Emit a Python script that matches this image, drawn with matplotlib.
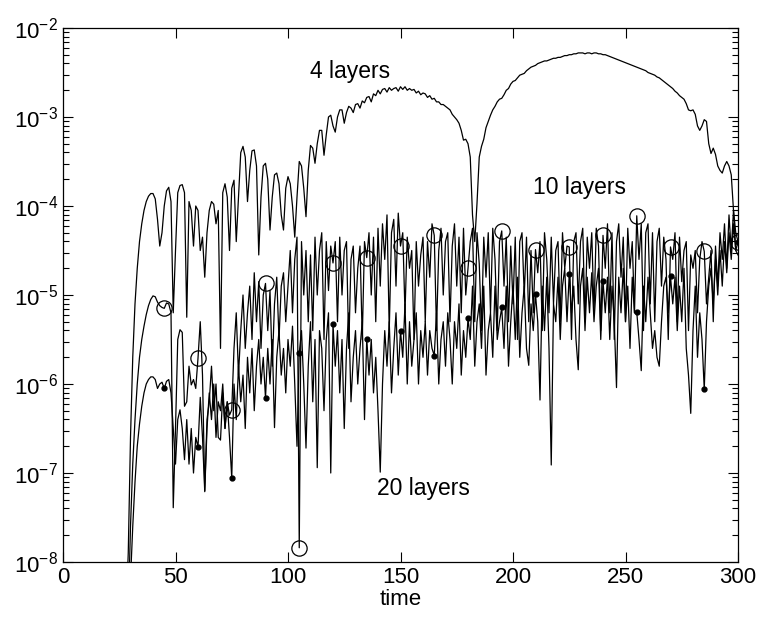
import numpy as np
import matplotlib
matplotlib.use("Agg")
import matplotlib.pyplot as plt
from matplotlib.ticker import LogLocator, MultipleLocator, NullFormatter

plt.rcParams['font.family'] = ['Liberation Sans', 'DejaVu Sans']
plt.rcParams['mathtext.fontset'] = 'custom'
plt.rcParams['mathtext.rm'] = 'Liberation Sans'
plt.rcParams['mathtext.it'] = 'Liberation Sans:italic'

# time grid (one sample per time unit, starting at t = 28)
t_start = 28

# log10 of the error
log_4layers = [
    -8.6, -7.9,
    -6.6, -5.7, -5.1, -4.7, -4.4, -4.2, -4.05, -3.95, -3.89, -3.86,
    -3.86, -3.92, -4.15, -4.45, -4.3, -4.0, -3.83, -3.79, -3.95, -5.2,
    -4.5, -3.85, -3.77, -3.76, -3.85, -5.25, -3.95, -4.05, -4.45, -4.0,
    -4.05, -4.5, -4.35, -4.8, -4.3, -4.05, -3.95, -3.98, -4.2, -4.05,
    -5.6, -3.85, -3.75, -3.9, -4.5, -3.8, -3.71, -4.4, -3.9, -3.4,
    -3.33, -3.45, -3.95, -3.6, -3.38, -3.37, -3.55, -4.55, -3.9, -3.55,
    -3.52, -3.7, -4.27, -3.9, -3.65, -3.63, -3.75, -4.1, -4.27, -3.8,
    -3.67, -3.75, -4.0, -4.35, -3.9, -3.5, -3.55, -3.8, -4.12, -3.6,
    -3.32, -3.35, -3.52, -3.3, -3.15, -3.15, -3.43, -3.2, -3.0, -2.98,
    -3.1, -3.17, -3.0, -2.92, -2.92, -3.07, -2.95, -2.88, -2.9, -2.95,
    -2.86, -2.85, -2.9, -2.82, -2.84, -2.78, -2.77, -2.83, -2.74, -2.76,
    -2.7, -2.74, -2.69, -2.68, -2.72, -2.67, -2.7, -2.68, -2.67, -2.71,
    -2.66, -2.69, -2.66, -2.7, -2.68, -2.7, -2.69, -2.73, -2.71, -2.75,
    -2.73, -2.74, -2.78, -2.76, -2.8, -2.79, -2.83, -2.83, -2.86, -2.86,
    -2.88, -2.9, -2.92, -2.97, -3.0, -3.03, -3.07, -3.15, -3.26, -3.25,
    -3.3, -3.45, -4.1, -4.4, -3.97, -3.45, -3.33, -3.25, -3.12, -3.05,
    -2.98, -2.92, -2.88, -2.83, -2.8, -2.79, -2.75, -2.7, -2.68, -2.63,
    -2.6, -2.59, -2.56, -2.53, -2.52, -2.51, -2.48, -2.46, -2.44, -2.43,
    -2.42, -2.4, -2.39, -2.38, -2.37, -2.37, -2.36, -2.35, -2.34, -2.34,
    -2.33, -2.33, -2.32, -2.31, -2.31, -2.3, -2.3, -2.29, -2.29, -2.28,
    -2.28, -2.28, -2.29, -2.28, -2.28, -2.29, -2.28, -2.28, -2.29, -2.29,
    -2.3, -2.3, -2.31, -2.32, -2.33, -2.34, -2.35, -2.36, -2.37, -2.38,
    -2.39, -2.4, -2.41, -2.42, -2.43, -2.44, -2.45, -2.46, -2.47, -2.48,
    -2.5, -2.51, -2.52, -2.53, -2.55, -2.56, -2.58, -2.6, -2.62, -2.64,
    -2.66, -2.68, -2.71, -2.73, -2.76, -2.78, -2.8, -2.85, -2.92, -2.93,
    -2.92, -2.97, -3.1, -3.15, -3.1, -3.03, -3.05, -3.3, -3.41, -3.35,
    -3.42, -3.55, -3.6, -3.63, -3.55, -3.5, -3.55, -3.65, -4.05, -4.5,
    -4.55,
]

log_10layers = [
    -9.0, -8.6,
    -7.6, -6.9, -6.4, -6.0, -5.7, -5.5, -5.35, -5.22, -5.12, -5.05,
    -5.01, -5.02, -5.08, -5.12, -5.14, -5.15, -5.09, -5.1, -5.2, -7.39,
    -6.5, -5.5, -5.39, -5.42, -6.25, -6.2, -5.8, -6.01, -5.95, -6.05,
    -5.71, -5.3, -5.9, -7.2, -6.4, -6.2, -5.8, -6.3, -6.0, -6.6,
    -6.63, -6.1, -6.5, -6.2, -6.35, -6.29, -5.6, -5.2, -5.9, -5.4,
    -5.0, -5.6, -5.2, -4.9, -5.5, -4.75, -5.3, -4.85, -5.6, -5.0,
    -4.87, -5.4, -4.95, -5.8, -5.1, -4.8, -5.5, -4.9, -4.75, -5.3,
    -4.9, -4.5, -5.2, -4.6, -4.35, -7.84, -4.4, -5.0, -4.5, -5.3,
    -4.55, -5.4, -4.35, -5.0, -4.5, -4.3, -5.5, -4.4, -4.95, -4.45,
    -4.64, -4.4, -5.3, -4.35, -5.0, -4.5, -4.4, -5.6, -4.6, -4.45,
    -5.2, -4.7, -4.45, -5.5, -4.4, -4.58, -4.3, -5.0, -4.35, -5.3,
    -4.25, -4.9, -4.2, -4.6, -4.1, -5.4, -4.3, -4.15, -4.9, -4.08,
    -4.45, -4.3, -5.2, -4.35, -4.7, -4.5, -5.5, -4.4, -4.9, -4.55,
    -4.35, -5.3, -4.4, -4.8, -4.2, -4.33, -5.4, -4.5, -4.25, -5.0,
    -4.4, -4.3, -5.3, -4.45, -4.2, -4.9, -4.35, -5.2, -4.25, -5.0,
    -4.7, -4.4, -4.25, -5.3, -4.3, -4.65, -5.4, -4.35, -4.8, -4.3,
    -5.2, -4.25, -4.6, -5.4, -4.4, -4.28, -4.9, -4.35, -5.3, -4.45,
    -5.1, -4.35, -5.5, -4.4, -4.3, -5.0, -4.35, -5.3, -4.5, -5.2,
    -4.49, -4.75, -4.4, -5.4, -4.3, -4.6, -5.2, -4.35, -5.1, -4.5,
    -4.4, -5.3, -4.3, -4.7, -4.45, -4.46, -5.5, -4.4, -4.3, -5.1,
    -4.4, -4.25, -5.3, -4.35, -4.7, -4.3, -5.2, -4.25, -4.45, -5.4,
    -4.33, -4.7, -4.2, -5.2, -4.3, -5.5, -4.4, -4.2, -4.8, -4.35,
    -5.3, -4.25, -4.7, -4.4, -5.2, -4.11, -4.6, -4.2, -5.4, -4.3,
    -4.2, -5.1, -4.3, -5.3, -4.4, -4.25, -4.9, -4.35, -4.6, -5.5,
    -4.46, -4.6, -4.3, -5.3, -4.35, -4.85, -4.5, -4.4, -5.4, -4.55,
    -4.7, -4.5, -5.2, -4.6, -4.4, -4.51, -5.1, -4.8, -4.5, -5.3,
    -4.45, -4.9, -4.3, -4.6, -4.2, -4.7, -4.1, -4.5, -4.05, -4.3,
    -4.4,
]

log_20layers = [
    -9.5, -9.0,
    -8.2, -7.6, -7.1, -6.7, -6.45, -6.25, -6.1, -6.0, -5.95, -5.92,
    -5.92, -5.95, -6.05, -6.0, -5.98, -6.05, -5.97, -5.95, -6.1, -6.5,
    -6.9, -6.4, -6.29, -6.5, -6.85, -6.4, -6.9, -6.5, -7.0, -6.6,
    -6.71, -6.15, -6.6, -7.21, -6.5, -6.1, -6.4, -6.0, -6.6, -6.2,
    -6.3, -6.0, -6.5, -6.2, -6.6, -7.06, -6.0, -6.4, -5.8, -6.2,
    -5.9, -6.5, -5.7, -6.1, -5.6, -6.3, -5.8, -5.5, -6.0, -5.7,
    -6.16, -5.6, -6.0, -5.5, -6.49, -5.7, -5.4, -5.9, -5.6, -6.1,
    -5.5, -5.8, -5.35, -6.0, -6.7, -5.65, -5.4, -6.0, -6.72, -5.8,
    -5.3, -6.2, -5.5, -6.94, -5.4, -5.6, -6.3, -5.5, -5.2, -7.0,
    -5.33, -5.8, -5.4, -6.1, -5.5, -6.5, -5.6, -5.2, -6.2, -5.7,
    -5.4, -6.0, -5.6, -5.3, -6.4, -5.49, -5.9, -5.5, -6.1, -5.7,
    -6.3, -6.99, -6.0, -5.4, -5.8, -5.3, -6.1, -5.6, -5.2, -5.9,
    -5.4, -5.7, -5.1, -6.0, -5.3, -5.8, -5.5, -5.2, -6.0, -5.4,
    -5.7, -5.3, -5.9, -5.4, -5.6, -5.68, -5.2, -6.0, -5.5, -5.3,
    -5.8, -5.2, -5.5, -6.0, -5.3, -5.6, -5.1, -5.9, -5.4, -5.7,
    -5.26, -5.5, -4.9, -5.8, -5.3, -5.1, -5.6, -4.9, -5.9, -5.4,
    -5.2, -5.7, -4.9, -5.5, -5.3, -5.14, -5.6, -4.9, -5.8, -5.3,
    -4.9, -5.5, -4.8, -5.7, -5.2, -4.9, -5.6, -5.79, -5.1, -5.4,
    -4.99, -5.3, -6.18, -4.9, -5.4, -4.8, -5.6, -6.91, -5.1, -5.3,
    -4.8, -5.5, -4.9, -4.7, -5.3, -4.76, -5.2, -4.9, -5.5, -5.84,
    -4.9, -4.7, -5.4, -4.8, -5.2, -4.75, -5.3, -4.9, -4.7, -5.5,
    -4.84, -5.2, -4.8, -5.5, -4.9, -5.3, -6.04, -4.8, -5.2, -4.7,
    -5.3, -4.9, -5.6, -4.8, -5.2, -5.19, -5.5, -5.85, -4.9, -5.3,
    -4.8, -5.2, -5.6, -5.4, -5.7, -5.8, -5.3, -4.9, -4.8, -5.2,
    -4.79, -5.1, -4.8, -5.4, -4.9, -5.3, -4.7, -5.6, -5.9, -6.33,
    -5.4, -4.9, -5.7, -5.2, -5.5, -6.06, -5.3, -4.9, -4.7, -5.1,
    -4.6, -5.0, -4.5, -4.9, -4.4, -4.75, -4.3, -4.6, -4.2, -4.5,
    -4.4,
]

series_names = ["4 layers", "10 layers", "20 layers"]
marker_first_time = 45   # markers every 15 time units from t = 45
marker_step = 15

fig = plt.figure(figsize=(7.6, 6.19), dpi=100)
ax = fig.add_axes([63 / 760, 1 - 562 / 619, 675 / 760, 534 / 619])

def plot_series(logvals, **kw):
    t = np.arange(t_start, t_start + len(logvals))
    y = 10.0 ** np.asarray(logvals)
    ax.plot(t, y, color='black', lw=0.9, **kw)
    return t, y

plot_series(log_4layers)
i0 = marker_first_time - t_start
plot_series(log_10layers, marker='o', ms=11, mfc='none', mec='black', mew=0.9,
            markevery=slice(i0, None, marker_step))
plot_series(log_20layers, marker='o', ms=3.5, mfc='black', mec='black',
            markevery=slice(i0, None, marker_step))

ax.set_yscale('log')
ax.set_xlim(0, 300)
ax.set_ylim(1e-8, 1e-2)
ax.xaxis.set_major_locator(MultipleLocator(50))
ax.yaxis.set_major_locator(LogLocator(base=10, numticks=20))
ax.yaxis.set_minor_locator(LogLocator(base=10, subs=np.arange(2, 10), numticks=20))
ax.yaxis.set_minor_formatter(NullFormatter())
ax.tick_params(which='both', direction='in', top=True, right=True, labelsize=16,
               width=0.8)
ax.tick_params(which='major', length=7)
ax.tick_params(which='minor', length=4)
for s in ax.spines.values():
    s.set_linewidth(0.9)

ax.set_xlabel('time', fontsize=16, labelpad=1)

ax.text(110, 10 ** -2.49, series_names[0], fontsize=16.5, ha='left', va='center')
ax.text(209, 10 ** -3.79, series_names[1], fontsize=16.5, ha='left', va='center')
ax.text(139.5, 10 ** -7.17, series_names[2], fontsize=16.5, ha='left', va='center')

fig.savefig('out.png', dpi=100)
